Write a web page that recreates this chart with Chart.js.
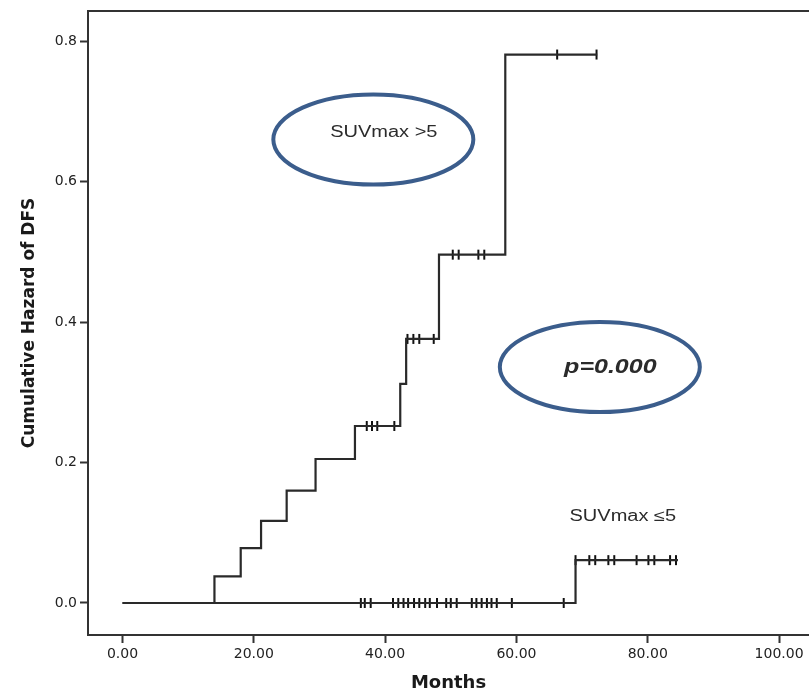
<!DOCTYPE html>
<html>
<head>
<meta charset="utf-8">
<title>Cumulative Hazard of DFS</title>
<script src="https://cdn.jsdelivr.net/npm/chart.js@4.4.1/dist/chart.umd.min.js"></script>
<style>
  html, body { margin: 0; padding: 0; background: #fff; overflow: hidden; }
  canvas { display: block; }
</style>
</head>
<body>
<canvas id="hazard-chart" width="809" height="692"></canvas>
<script>
// Cumulative hazard steps (months, hazard)
const highTimes = [0, 14.0, 18.0, 21.1, 25.0, 29.4, 35.4, 42.3, 43.2, 48.2, 58.3, 72.3];
const highHazard = [0, 0.038, 0.078, 0.117, 0.160, 0.205, 0.252, 0.312, 0.376, 0.496, 0.781, 0.781];
const highCensored = [37.2, 38.0, 38.8, 41.4, 43.4, 44.3, 45.2, 47.4, 50.3, 51.2, 54.2, 55.1, 66.2, 72.2];

const lowTimes = [0, 69.0, 84.6];
const lowHazard = [0, 0.061, 0.061];
const lowCensored = [36.3, 36.9, 37.8, 41.2, 42.0, 42.8, 43.5, 44.4, 45.2, 46.1, 46.8, 47.9,
  49.3, 50.0, 50.9, 53.2, 53.9, 54.7, 55.5, 56.2, 57.0, 59.3, 67.2,
  69.0, 71.1, 72.0, 74.0, 74.9, 78.3, 80.1, 81.0, 83.4, 84.3];

const xTickValues = [0, 20, 40, 60, 80, 100];
const yTickValues = [0, 0.2, 0.4, 0.6, 0.8];

// labels drawn on the plot (anchored in data units)
const ellipses = [
  { x: 38.2, y: 0.66, rx: 100, ry: 45 },
  { x: 72.7, y: 0.336, rx: 100, ry: 45 },
];
const notes = [
  { text: "SUVmax >5", x: 39.8, y: 0.6695, font: "16px 'Liberation Sans', Arial, sans-serif", stretch: 1.25 },
  { text: "p=0.000", x: 74.3, y: 0.336, font: "italic bold 20px 'Liberation Sans', Arial, sans-serif", stretch: 1.25 },
  { text: "SUVmax \u22645", x: 76.2, y: 0.1225, font: "16px 'Liberation Sans', Arial, sans-serif", stretch: 1.25 },
];

document.addEventListener("DOMContentLoaded", function () {
  const canvas = document.getElementById("hazard-chart");

  function toPoints(times, values) {
    return times.map((t, i) => ({ x: t, y: values[i] }));
  }

  // hazard level of a step curve at time t
  function levelAt(times, values, t) {
    let level = values[0];
    for (let i = 0; i < times.length; i++) {
      if (times[i] <= t) level = values[i];
    }
    return level;
  }

  function censorPoints(censored, times, values) {
    return censored.map((t) => ({ x: t, y: levelAt(times, values, t) }));
  }

  const lineStyle = {
    type: "line",
    stepped: "before",
    borderColor: "#2a2a2a",
    borderWidth: 2.2,
    pointRadius: 0,
    fill: false,
  };

  const markStyle = {
    type: "scatter",
    pointStyle: "line",
    rotation: 90,
    radius: 5,
    borderColor: "#111",
    borderWidth: 2,
  };

  // frame top line, ellipses and text notes
  const overlay = {
    id: "overlay",
    afterDatasetsDraw(chart) {
      const ctx = chart.ctx;
      const area = chart.chartArea;
      const xs = chart.scales.x;
      const ys = chart.scales.y;

      ctx.save();
      ctx.strokeStyle = "#333";
      ctx.lineWidth = 2;
      ctx.beginPath();
      ctx.moveTo(area.left, area.top);
      ctx.lineTo(area.right, area.top);
      ctx.stroke();

      ctx.strokeStyle = "#3b5d8c";
      ctx.lineWidth = 4;
      ellipses.forEach((e) => {
        ctx.beginPath();
        ctx.ellipse(xs.getPixelForValue(e.x), ys.getPixelForValue(e.y), e.rx, e.ry, 0, 0, Math.PI * 2);
        ctx.stroke();
      });

      ctx.fillStyle = "#2b2b2b";
      ctx.textAlign = "center";
      ctx.textBaseline = "middle";
      notes.forEach((n) => {
        ctx.save();
        ctx.translate(xs.getPixelForValue(n.x), ys.getPixelForValue(n.y));
        ctx.scale(n.stretch, 1);
        ctx.font = n.font;
        ctx.fillText(n.text, 0, 0);
        ctx.restore();
      });
      ctx.restore();
    },
  };

  const tickFont = { family: "'DejaVu Sans'", size: 14 };

  new Chart(canvas, {
    data: {
      datasets: [
        Object.assign({ label: "SUVmax >5", data: toPoints(highTimes, highHazard) }, lineStyle),
        Object.assign({ label: "SUVmax <=5", data: toPoints(lowTimes, lowHazard) }, lineStyle),
        Object.assign({ label: "censored >5", data: censorPoints(highCensored, highTimes, highHazard) }, markStyle),
        Object.assign({ label: "censored <=5", data: censorPoints(lowCensored, lowTimes, lowHazard) }, markStyle),
      ],
    },
    options: {
      responsive: false,
      animation: false,
      devicePixelRatio: 1,
      layout: { autoPadding: false, padding: { top: 11, right: 0, bottom: 0, left: 0 } },
      plugins: {
        legend: { display: false },
        tooltip: { enabled: false },
      },
      scales: {
        x: {
          type: "linear",
          min: -5.26,
          max: 104.56,
          afterBuildTicks: (scale) => {
            scale.ticks = xTickValues.map((v) => ({ value: v }));
          },
          afterFit: (scale) => {
            scale.height = 57;
            scale.paddingLeft = 0;
            scale.paddingRight = 0;
          },
          ticks: {
            color: "#222",
            font: tickFont,
            padding: 3,
            maxRotation: 0,
            callback: (v) => Number(v).toFixed(2),
          },
          grid: { drawOnChartArea: false, drawTicks: true, tickLength: 8, tickColor: "#333", tickWidth: 2 },
          border: { display: true, color: "#333", width: 2 },
          title: {
            display: true,
            text: "Months",
            color: "#1a1a1a",
            font: { family: "'DejaVu Sans'", size: 18, weight: "bold", lineHeight: 1 },
            padding: { top: 0, bottom: 0 },
          },
        },
        y: {
          type: "linear",
          min: -0.0456,
          max: 0.843,
          afterBuildTicks: (scale) => {
            scale.ticks = yTickValues.map((v) => ({ value: v }));
          },
          afterFit: (scale) => {
            scale.width = 88;
            scale.paddingTop = 0;
            scale.paddingBottom = 0;
          },
          ticks: {
            color: "#222",
            font: tickFont,
            padding: 3,
            callback: (v) => Number(v).toFixed(1),
          },
          grid: { drawOnChartArea: false, drawTicks: true, tickLength: 8, tickColor: "#333", tickWidth: 2 },
          border: { display: true, color: "#333", width: 2 },
          title: {
            display: true,
            text: "Cumulative Hazard of DFS",
            color: "#1a1a1a",
            font: { family: "'DejaVu Sans'", size: 17, weight: "bold", lineHeight: 1 },
            padding: { top: 21, bottom: 0 },
          },
        },
      },
    },
    plugins: [overlay],
  });
});
</script>
</body>
</html>
